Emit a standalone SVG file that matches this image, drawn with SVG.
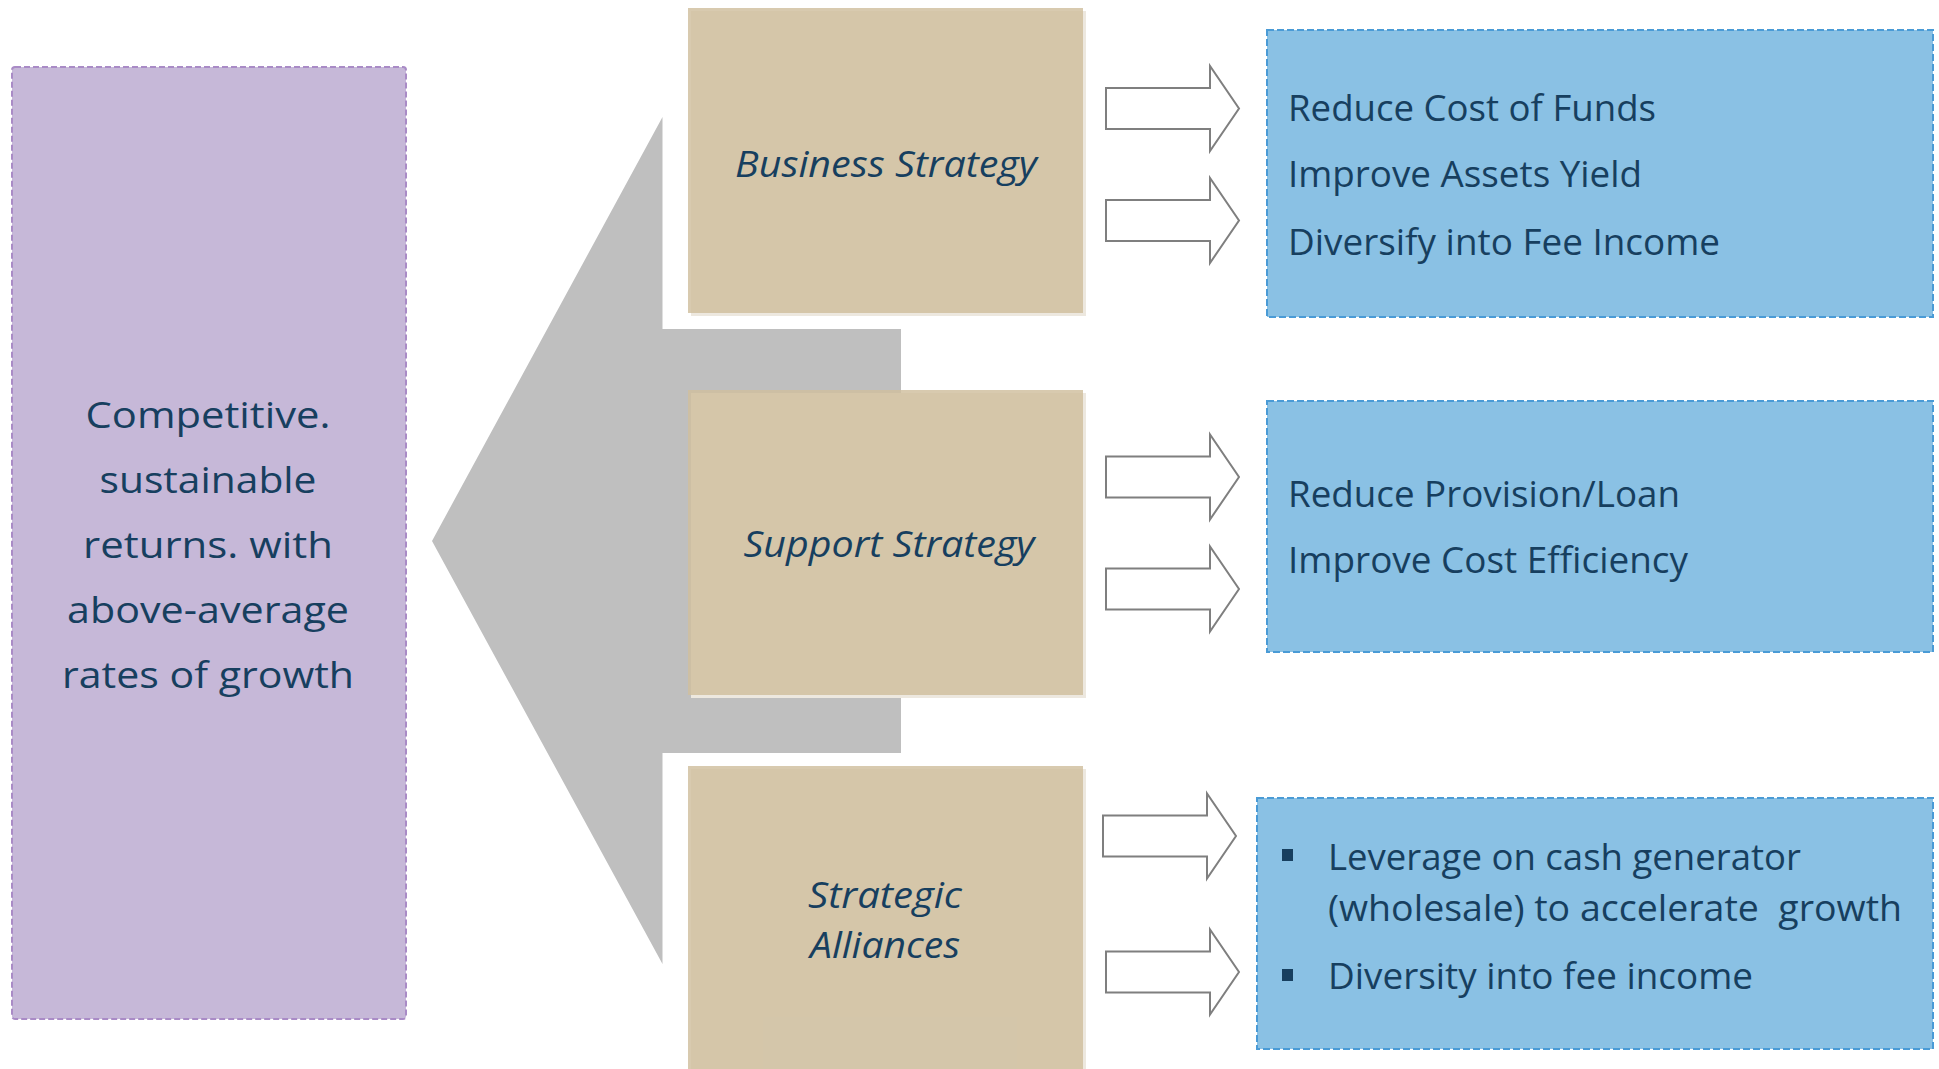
<svg xmlns="http://www.w3.org/2000/svg" width="1939" height="1069" viewBox="0 0 1939 1069">
<style>
.txt{font-family:"Open Sans","Noto Sans","Liberation Sans",sans-serif;fill:#173F5F;font-size:37px}
.it{font-style:italic}
.mid{text-anchor:middle}
.tan{fill:#CFBE9E;fill-opacity:0.82}
.shadow{fill:#EDE8DF}
.blue{fill:#8AC1E4;stroke:#4A9BD6;stroke-width:2;stroke-dasharray:7 3}
.arrow{fill:#FFFFFF;stroke:#7F7F7F;stroke-width:2}
</style>
<defs>
<path id="blockArrow" d="M0,-20.5 H104 V-42.5 L133,0 L104,42.5 V20.5 H0 Z"/>
</defs>
<rect width="1939" height="1069" fill="#FFFFFF"/>

<g id="goal">
<rect x="12" y="67" width="394" height="952" rx="3" fill="#C6B8D8" stroke="#A98BC6" stroke-width="2" stroke-dasharray="6 3"/>
<text class="txt mid" x="208" y="428" font-size="39" textLength="245" lengthAdjust="spacingAndGlyphs">Competitive.</text>
<text class="txt mid" x="208" y="493" font-size="39" textLength="217" lengthAdjust="spacingAndGlyphs">sustainable</text>
<text class="txt mid" x="208" y="558" font-size="39" textLength="250" lengthAdjust="spacingAndGlyphs">returns. with</text>
<text class="txt mid" x="208" y="623" font-size="39" textLength="282" lengthAdjust="spacingAndGlyphs">above-average</text>
<text class="txt mid" x="208" y="688" font-size="39" textLength="292" lengthAdjust="spacingAndGlyphs">rates of growth</text>
</g>

<g id="bracket">
<polygon points="662.5,117 662.5,329 901,329 901,753 662.5,753 662.5,964 432,541" fill="#BFBFBF"/>
</g>

<g id="business-strategy">
<rect class="shadow" x="691" y="11" width="395" height="305"/>
<rect class="tan" x="688" y="8" width="395" height="305"/>
<text class="txt it mid" x="886" y="177" textLength="302" lengthAdjust="spacingAndGlyphs">Business Strategy</text>
</g>

<g id="support-strategy">
<rect class="shadow" x="691" y="393" width="395" height="305"/>
<rect class="tan" x="688" y="390" width="395" height="305"/>
<text class="txt it mid" x="889" y="557" textLength="291" lengthAdjust="spacingAndGlyphs">Support Strategy</text>
</g>

<g id="strategic-alliances">
<rect class="shadow" x="691" y="769" width="395" height="310"/>
<rect class="tan" x="688" y="766" width="395" height="310"/>
<text class="txt it mid" x="885" y="908" textLength="154" lengthAdjust="spacingAndGlyphs">Strategic</text>
<text class="txt it mid" x="885" y="958" textLength="150" lengthAdjust="spacingAndGlyphs">Alliances</text>
</g>

<g id="connectors">
<use href="#blockArrow" class="arrow" transform="translate(1106,108.5)"/>
<use href="#blockArrow" class="arrow" transform="translate(1106,220.5)"/>
<use href="#blockArrow" class="arrow" transform="translate(1106,477)"/>
<use href="#blockArrow" class="arrow" transform="translate(1106,589)"/>
<use href="#blockArrow" class="arrow" transform="translate(1103,836)"/>
<use href="#blockArrow" class="arrow" transform="translate(1106,972)"/>
</g>

<g id="business-outcomes">
<rect class="blue" x="1267" y="30" width="666" height="287"/>
<text class="txt" x="1288" y="121" textLength="368" lengthAdjust="spacingAndGlyphs">Reduce Cost of Funds</text>
<text class="txt" x="1288" y="187" textLength="354" lengthAdjust="spacingAndGlyphs">Improve Assets Yield</text>
<text class="txt" x="1288" y="255" textLength="432" lengthAdjust="spacingAndGlyphs">Diversify into Fee Income</text>
</g>

<g id="support-outcomes">
<rect class="blue" x="1267" y="401" width="666" height="251"/>
<text class="txt" x="1288" y="507" textLength="392" lengthAdjust="spacingAndGlyphs">Reduce Provision/Loan</text>
<text class="txt" x="1288" y="573" textLength="400" lengthAdjust="spacingAndGlyphs">Improve Cost Efficiency</text>
</g>

<g id="alliance-outcomes">
<rect class="blue" x="1257" y="798" width="676" height="251"/>
<rect x="1282" y="849" width="11" height="12" fill="#173F5F"/>
<rect x="1282" y="969" width="11" height="12" fill="#173F5F"/>
<text class="txt" x="1328" y="870" textLength="473" lengthAdjust="spacingAndGlyphs">Leverage on cash generator</text>
<text class="txt" x="1328" y="921" textLength="574" lengthAdjust="spacingAndGlyphs" xml:space="preserve">(wholesale) to accelerate  growth</text>
<text class="txt" x="1328" y="989" textLength="425" lengthAdjust="spacingAndGlyphs">Diversity into fee income</text>
</g>
</svg>
